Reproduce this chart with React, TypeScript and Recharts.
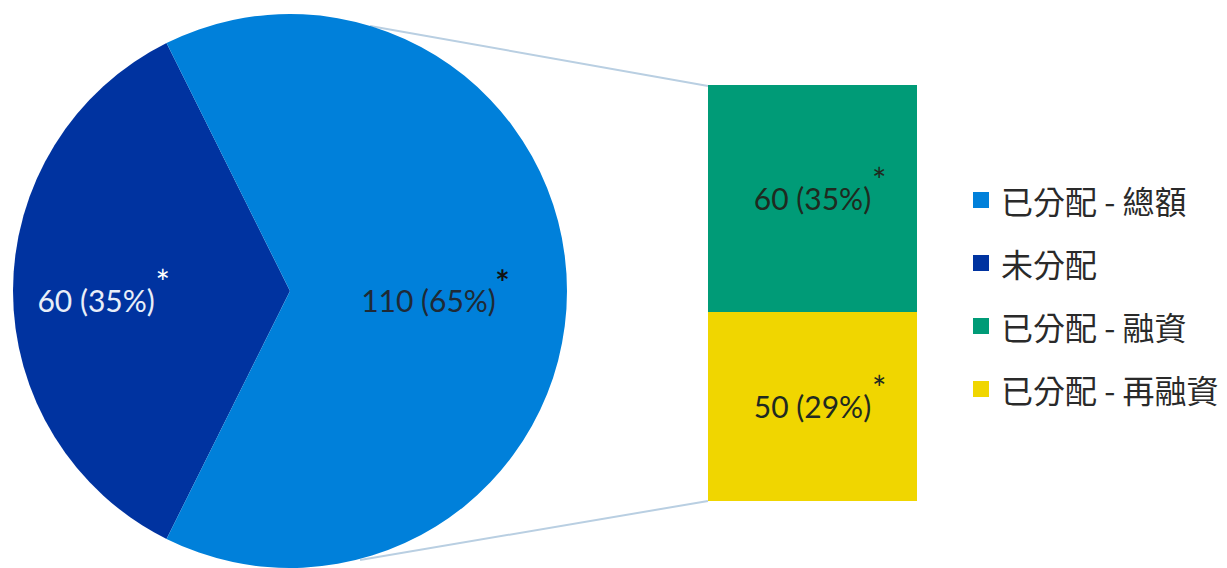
import { PieChart, Pie, Cell, BarChart, Bar, XAxis, YAxis, LabelList } from 'recharts'

// ── data ──────────────────────────────────────────────────────────────────────
const pieNames = ['未分配', '已分配 - 總額']
const pieValues = [60, 110]
const barNames = ['已分配 - 再融資', '已分配 - 融資'] // stacked bottom → top
const barValues = [50, 60]
const legendNames = ['已分配 - 總額', '未分配', '已分配 - 融資', '已分配 - 再融資']

const COLORS: Record<string, string> = {
  '已分配 - 總額': '#0080DA',
  '未分配': '#0033A0',
  '已分配 - 融資': '#009B77',
  '已分配 - 再融資': '#F0D600',
}

const TOTAL = pieValues.reduce((a, b) => a + b, 0)
const pct = (v: number) => `${Math.round((v / TOTAL) * 100)}%`
const fmt = (v: number) => `${v} (${pct(v)})`

const pieData = pieNames.map((name, i) => ({ name, value: pieValues[i] }))
const barData = [
  barNames.reduce((row, name, i) => ({ ...row, [name]: barValues[i] }), { cat: 'alloc' } as Record<string, any>),
]

const NUM_FONT = 'Lato, "Open Sans", sans-serif'
const CJK_FONT = '"Noto Sans CJK TC", "Noto Sans", sans-serif'
const RADIAN = Math.PI / 180

// start so that the 未分配 slice is centred on the left
const startAngle = 180 - (pieValues[0] / TOTAL) * 180

// value label with a superscript asterisk after it (asterisk kept out of centring)
function StarLabel({ x, y, text, fill, starFill, starBold }: any) {
  const half = text.length * 7.3
  return (
    <g>
      <text x={x} y={y} fill={fill} textAnchor="middle" dominantBaseline="central"
        fontFamily={NUM_FONT} fontSize={30}>{text}</text>
      <text x={x + half + 1} y={y - 5} fill={starFill} fontFamily={NUM_FONT}
        fontSize={34} fontWeight={starBold ? 700 : 400}>*</text>
    </g>
  )
}

function PieLabel(props: any) {
  const { cx, cy, midAngle, outerRadius, value, index } = props
  const r = outerRadius * (index === 0 ? 0.70 : 0.50)
  const x = cx + r * Math.cos(-midAngle * RADIAN)
  const y = cy + r * Math.sin(-midAngle * RADIAN) + 9
  return index === 0
    ? <StarLabel x={x} y={y} text={fmt(value)} fill="#e8eef8" starFill="#ffffff" />
    : <StarLabel x={x} y={y} text={fmt(value)} fill="#1f2a36" starFill="#111" starBold />
}

function BarLabel(props: any) {
  const { x, y, width, height, value } = props
  return <StarLabel x={x + width / 2} y={y + height / 2} text={fmt(value)} fill="#1f2a20" starFill="#1f2a20" />
}

function LegendBox() {
  return (
    <div style={{ position: 'absolute', left: 973, top: 168, fontFamily: CJK_FONT }}>
      {legendNames.map(n => (
        <div key={n} style={{ display: 'flex', alignItems: 'center', height: 63 }}>
          <span style={{ width: 16, height: 16, background: COLORS[n], marginRight: 12, display: 'inline-block' }} />
          <span style={{ fontSize: 32, color: '#2a2a2a', whiteSpace: 'nowrap' }}>{n}</span>
        </div>
      ))}
    </div>
  )
}

export default function App() {
  return (
    <div style={{ position: 'absolute', left: 0, top: 0, width: 1227, height: 568, background: '#fff' }}>
      {/* connector lines pie → bar */}
      <svg width={1227} height={568} style={{ position: 'absolute', left: 0, top: 0 }}>
        <line x1={370} y1={26} x2={708} y2={86} stroke="#b9cfe2" strokeWidth={2} />
        <line x1={360} y1={560} x2={708} y2={501} stroke="#b9cfe2" strokeWidth={2} />
      </svg>

      <div style={{ position: 'absolute', left: 0, top: 0 }}>
        <PieChart width={600} height={568} margin={{ top: 0, right: 0, bottom: 0, left: 0 }}>
          <Pie
            data={pieData} dataKey="value" nameKey="name"
            cx={290} cy={291} outerRadius={277}
            startAngle={startAngle} endAngle={startAngle + 360}
            stroke="none" label={PieLabel} labelLine={false}
            isAnimationActive={false}
          >
            {pieData.map(d => <Cell key={d.name} fill={COLORS[d.name]} />)}
          </Pie>
        </PieChart>
      </div>

      <div style={{ position: 'absolute', left: 708, top: 0 }}>
        <BarChart width={209} height={568} data={barData}
          margin={{ top: 85, right: 0, bottom: 67, left: 0 }} barCategoryGap={0}>
          <XAxis dataKey="cat" hide />
          <YAxis hide domain={[0, TOTAL - pieValues[0]]} />
          {barNames.map(n => (
            <Bar key={n} dataKey={n} stackId="a" fill={COLORS[n]} isAnimationActive={false}>
              <LabelList dataKey={n} content={BarLabel} />
            </Bar>
          ))}
        </BarChart>
      </div>

      <LegendBox />
    </div>
  )
}
